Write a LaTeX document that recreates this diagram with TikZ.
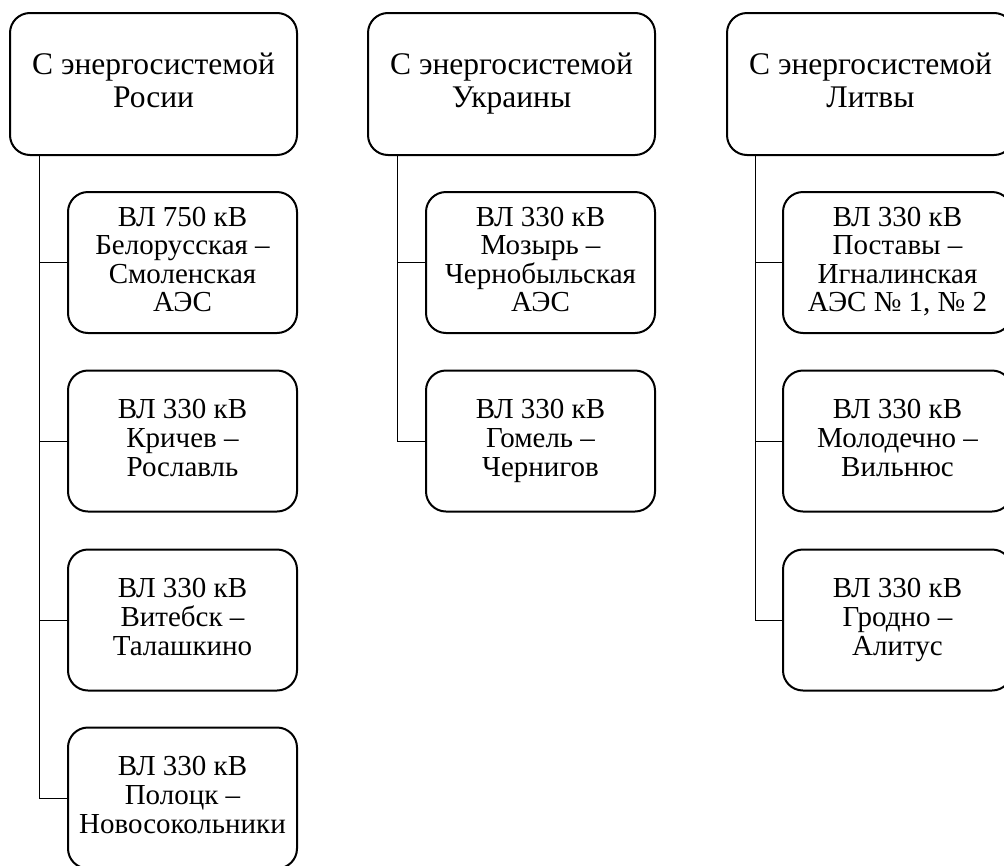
\documentclass[tikz,border=0pt]{standalone}
\usepackage{fontspec}
\setmainfont{Liberation Serif}
\newcommand\topstrut{\rule{0pt}{0.89em}}
\newcommand\botstrut{\rule[-0.22em]{0pt}{0.22em}}
\begin{document}
\begin{tikzpicture}[x=1pt,y=-1pt,
  topbox/.style={draw, line width=2pt, rounded corners=20pt, minimum width=287pt, minimum height=142pt, inner sep=0pt, align=center, font=\fontsize{31.5}{33}\selectfont, execute at begin node=\topstrut, execute at end node=\botstrut},
  childbox/.style={draw, line width=2pt, rounded corners=20pt, minimum width=229pt, minimum height=141pt, inner sep=0pt, align=center, font=\fontsize{29}{28.6}\selectfont, execute at begin node=\topstrut, execute at end node=\botstrut},
  conn/.style={draw, line width=1pt}]
\useasboundingbox (0,0) rectangle (1004,865);
\clip (0,0) rectangle (1004,865);
\node[topbox] (tl) at (153.5,84) {С энергосистемой\\Росии};
\node[topbox] (tm) at (511.5,84) {С энергосистемой\\Украины};
\node[topbox] (tr) at (870.5,84) {С энергосистемой\\Литвы};
\node[childbox] (l1) at (182.5,262.5) {ВЛ 750 кВ\\Белорусская –\\Смоленская\\АЭС};
\node[childbox] (l2) at (182.5,441) {ВЛ 330 кВ\\Кричев –\\Рославль};
\node[childbox] (l3) at (182.5,620) {ВЛ 330 кВ\\Витебск –\\Талашкино};
\node[childbox] (l4) at (182.5,798) {ВЛ 330 кВ\\Полоцк –\\Новосокольники};
\node[childbox] (m1) at (540.5,262.5) {ВЛ 330 кВ\\Мозырь –\\Чернобыльская\\АЭС};
\node[childbox] (m2) at (540.5,441) {ВЛ 330 кВ\\Гомель –\\Чернигов};
\node[childbox] (r1) at (897.5,262.5) {ВЛ 330 кВ\\Поставы –\\Игналинская\\АЭС № 1, № 2};
\node[childbox] (r2) at (897.5,441) {ВЛ 330 кВ\\Молодечно –\\Вильнюс};
\node[childbox] (r3) at (897.5,620) {ВЛ 330 кВ\\Гродно –\\Алитус};
\draw[conn] ([xshift=30pt]tl.south west) |- (l4.west);
\foreach \n in {l1,l2,l3} \draw[conn] ([xshift=30pt]tl.south west |- \n.west) -- (\n.west);
\draw[conn] ([xshift=30pt]tm.south west) |- (m2.west);
\draw[conn] ([xshift=30pt]tm.south west |- m1.west) -- (m1.west);
\draw[conn] ([xshift=29pt]tr.south west) |- (r3.west);
\foreach \n in {r1,r2} \draw[conn] ([xshift=29pt]tr.south west |- \n.west) -- (\n.west);
\end{tikzpicture}
\end{document}
